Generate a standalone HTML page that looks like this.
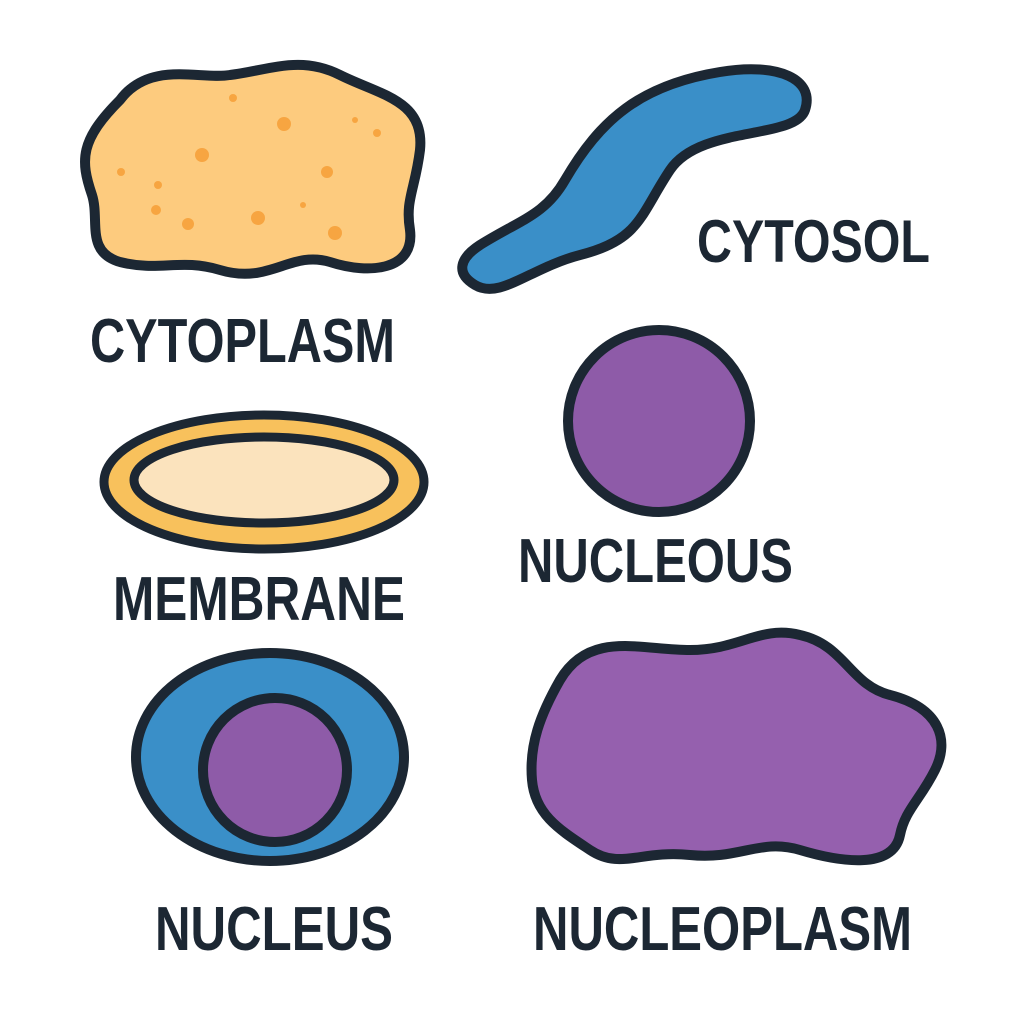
<!DOCTYPE html>
<html><head><meta charset="utf-8"><style>
html,body{margin:0;padding:0;background:#fff;}
svg{display:block}
text{font-family:"Liberation Sans",sans-serif;font-weight:bold;fill:#1c2733;}
</style></head><body>
<svg width="1024" height="1024" viewBox="0 0 1024 1024">
<rect width="1024" height="1024" fill="#fff"/>
<g>
<path d="M120,100 C150,60 200,80 230,75 C270,70 300,55 340,75 C380,95 425,100 420,150 C415,190 405,200 410,230 C415,270 370,275 330,262 C290,250 270,285 220,270 C180,258 160,272 120,262 C85,252 100,220 92,195 C80,160 80,140 120,100 Z" fill="#fdcb7e" stroke="#1c2733" stroke-width="10" stroke-linejoin="round"/>
<g fill="#f7a541">
<circle cx="202" cy="155" r="7"/><circle cx="284" cy="124" r="7"/><circle cx="258" cy="218" r="7"/><circle cx="335" cy="233" r="7"/><circle cx="327" cy="172" r="6"/><circle cx="188" cy="224" r="6"/><circle cx="156" cy="210" r="5"/><circle cx="158" cy="185" r="4"/><circle cx="233" cy="98" r="4"/><circle cx="121" cy="172" r="4"/><circle cx="377" cy="133" r="4"/><circle cx="303" cy="205" r="3"/><circle cx="355" cy="120" r="3"/>
</g></g>
<text x="90" y="362" font-size="62" textLength="305" lengthAdjust="spacingAndGlyphs">CYTOPLASM</text>

<path d="M480,245 C520,220 545,215 565,180 C600,120 640,85 720,72 C780,62 815,80 805,110 C795,140 700,125 670,170 C640,215 640,240 580,255 C530,268 500,300 475,285 C455,273 460,258 480,245 Z" fill="#3a8fc8" stroke="#1c2733" stroke-width="10" stroke-linejoin="round"/>
<text x="697" y="262" font-size="60" textLength="233" lengthAdjust="spacingAndGlyphs">CYTOSOL</text>

<circle cx="659" cy="421" r="91" fill="#8e5ba8" stroke="#1c2733" stroke-width="10"/>
<text x="518" y="582" font-size="62" textLength="275" lengthAdjust="spacingAndGlyphs">NUCLEOUS</text>

<g>
<ellipse cx="264" cy="482" rx="160" ry="67" fill="#f8c15c" stroke="#1c2733" stroke-width="9"/>
<ellipse cx="264" cy="480" rx="130" ry="43" fill="#fbe3bd" stroke="#1c2733" stroke-width="9"/>
</g>
<text x="113" y="620" font-size="62" textLength="292" lengthAdjust="spacingAndGlyphs">MEMBRANE</text>

<g>
<ellipse cx="270" cy="757" rx="134" ry="104" fill="#3a8fc8" stroke="#1c2733" stroke-width="10"/>
<circle cx="275" cy="770" r="72" fill="#8e5ba8" stroke="#1c2733" stroke-width="10"/>
</g>
<text x="155" y="950" font-size="62" textLength="238" lengthAdjust="spacingAndGlyphs">NUCLEUS</text>

<path d="M560,680 C590,630 640,650 690,650 C740,650 760,625 800,635 C845,645 850,685 890,695 C940,708 950,740 935,770 C920,800 905,810 900,835 C893,870 840,862 800,850 C760,838 740,860 690,855 C640,850 620,870 590,850 C560,830 535,815 532,780 C529,745 540,715 560,680 Z" fill="#9560ae" stroke="#1c2733" stroke-width="10" stroke-linejoin="round"/>
<text x="533" y="950" font-size="62" textLength="379" lengthAdjust="spacingAndGlyphs">NUCLEOPLASM</text>
</svg>
</body></html>
